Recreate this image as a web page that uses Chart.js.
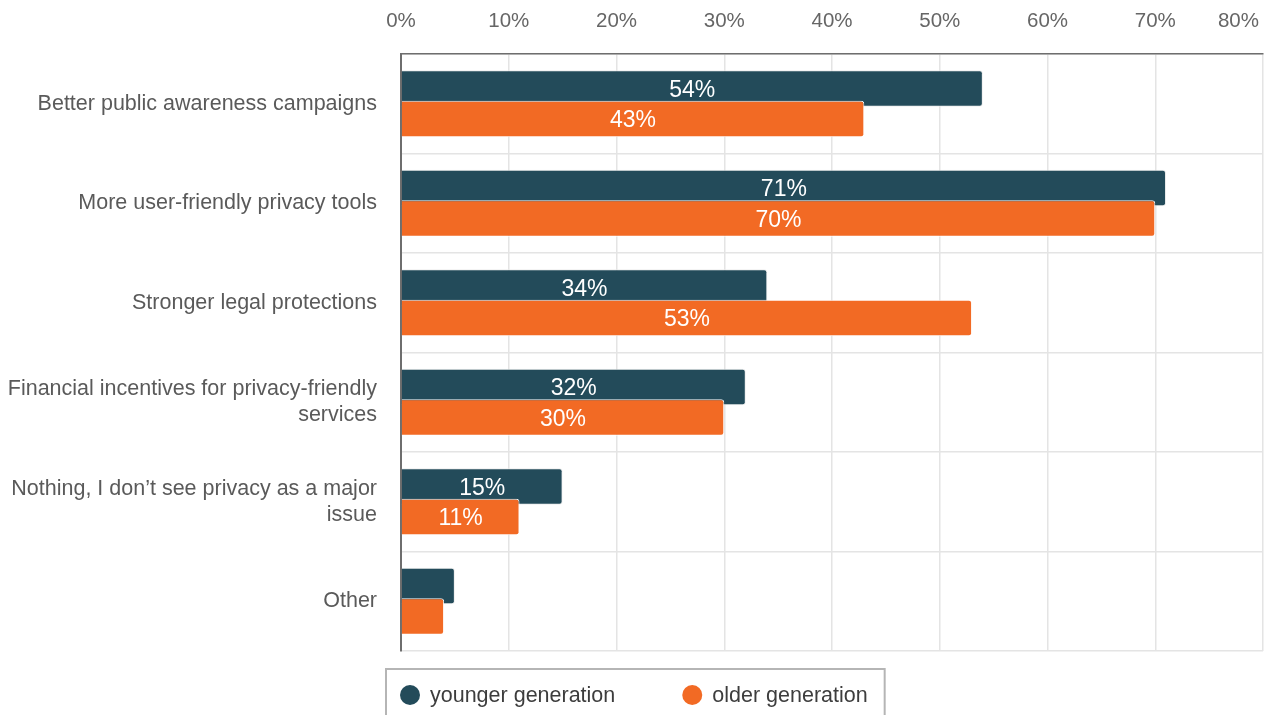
<!DOCTYPE html>
<html>
<head>
<meta charset="utf-8">
<script src="https://cdn.jsdelivr.net/npm/chart.js@4/dist/chart.umd.min.js"></script>
<style>
  html, body { margin: 0; padding: 0; background: #fff; }
  #wrap { width: 1271px; height: 715px; position: relative; }
</style>
</head>
<body>
<div id="wrap"><canvas id="chart"></canvas></div>
<script>
// What would make people protect their privacy better, by generation (% of respondents)
const categories = [
  ["Better public awareness campaigns"],
  ["More user-friendly privacy tools"],
  ["Stronger legal protections"],
  ["Financial incentives for privacy-friendly", "services"],
  ["Nothing, I don\u2019t see privacy as a major", "issue"],
  ["Other"]
];
const seriesNames = ["younger generation", "older generation"];
const youngerGeneration = [54, 71, 34, 32, 15, 5];
const olderGeneration = [43, 70, 53, 30, 11, 4];
const xTickValues = [0, 10, 20, 30, 40, 50, 60, 70, 80];

const DARK = "#234b5a";
const ORANGE = "#f26a24";
const FONT = "'Liberation Sans', Arial, sans-serif";

// Bars are drawn first series first so the second one overlaps it, each followed by its value labels.
const orderedBarsPlugin = {
  id: "orderedBars",
  beforeDatasetsDraw(chart) {
    const ctx = chart.ctx;
    for (let i = 0; i < chart.data.datasets.length; i++) {
      const meta = chart.getDatasetMeta(i);
      if (meta.hidden) continue;
      meta.controller.draw();
      const values = chart.data.datasets[i].data;
      ctx.save();
      ctx.fillStyle = "#ffffff";
      ctx.font = "23px " + FONT;
      ctx.textAlign = "center";
      ctx.textBaseline = "middle";
      meta.data.forEach((bar, j) => {
        const v = values[j];
        if (v < 10) return;
        const x = (bar.x + bar.base) / 2;
        ctx.fillText(v + "%", x, bar.y + 2);
      });
      ctx.restore();
    }
    return false;
  }
};

// Last axis label kept inside the canvas, plus the boxed legend under the plot.
const decorPlugin = {
  id: "decor",
  afterDraw(chart) {
    const ctx = chart.ctx;
    ctx.save();
    ctx.font = "20.5px " + FONT;
    ctx.fillStyle = "#666666";
    ctx.textAlign = "right";
    ctx.textBaseline = "middle";
    const last = xTickValues[xTickValues.length - 1];
    ctx.fillText(last + "%", chart.width - 12, 21);

    // legend
    ctx.font = "21.5px " + FONT;
    const colors = [DARK, ORANGE];
    const r = 10, gap = 10, between = 67, padL = 14, padR = 17;
    const widths = seriesNames.map(n => 2 * r + gap + ctx.measureText(n).width);
    const total = padL + widths[0] + between + widths[1] + padR;
    const left = Math.round((chart.width - total) / 2);
    const top = 669;
    ctx.strokeStyle = "#b5b5b5";
    ctx.lineWidth = 2;
    ctx.strokeRect(left, top, total, 60);
    let x = left + padL;
    const cy = 695;
    seriesNames.forEach((name, i) => {
      ctx.beginPath();
      ctx.fillStyle = colors[i];
      ctx.arc(x + r, cy, r, 0, Math.PI * 2);
      ctx.fill();
      ctx.fillStyle = "#3d3d3d";
      ctx.textAlign = "left";
      ctx.fillText(name, x + 2 * r + gap, cy + 1);
      x += widths[i] + between;
    });
    ctx.restore();
  }
};

new Chart(document.getElementById("chart"), {
  type: "bar",
  data: {
    labels: categories,
    datasets: [
      {
        label: seriesNames[0],
        data: youngerGeneration,
        backgroundColor: DARK,
        borderColor: "rgba(235,235,235,0.9)",
        borderWidth: 1,
        borderSkipped: "start",
        borderRadius: 3,
        categoryPercentage: 0.61,
        barPercentage: 1.2
      },
      {
        label: seriesNames[1],
        data: olderGeneration,
        backgroundColor: ORANGE,
        borderColor: "rgba(255,255,255,0.95)",
        borderWidth: 1,
        borderSkipped: "start",
        borderRadius: 3,
        categoryPercentage: 0.61,
        barPercentage: 1.2
      }
    ]
  },
  options: {
    indexAxis: "y",
    responsive: true,
    maintainAspectRatio: false,
    animation: false,
    layout: { padding: { top: 0, right: 8, bottom: 64, left: 0 } },
    plugins: {
      legend: { display: false },
      tooltip: { enabled: false }
    },
    scales: {
      x: {
        position: "top",
        min: 0,
        max: 80,
        afterBuildTicks(scale) {
          scale.ticks = xTickValues.map(v => ({ value: v }));
        },
        afterFit(scale) { scale.height = 54; scale.paddingLeft = 0; scale.paddingRight = 0; },
        ticks: {
          autoSkip: false,
          maxRotation: 0,
          padding: 20,
          color: "#666666",
          font: { family: FONT, size: 20.5 },
          callback: (v) => v === xTickValues[xTickValues.length - 1] ? "" : v + "%"
        },
        grid: { color: "#e4e4e4", lineWidth: 1.5, drawTicks: false },
        border: { display: true, color: "#6e6e6e", width: 1.5 }
      },
      y: {
        afterFit(scale) { scale.width = 401; },
        ticks: {
          padding: 24,
          color: "#5a5a5a",
          font: { family: FONT, size: 21.5, lineHeight: 1.2 }
        },
        grid: { color: "#e4e4e4", lineWidth: 1.5, drawTicks: false, offset: true },
        border: { display: true, color: "#6e6e6e", width: 2 }
      }
    }
  },
  plugins: [orderedBarsPlugin, decorPlugin]
});
</script>
</body>
</html>
